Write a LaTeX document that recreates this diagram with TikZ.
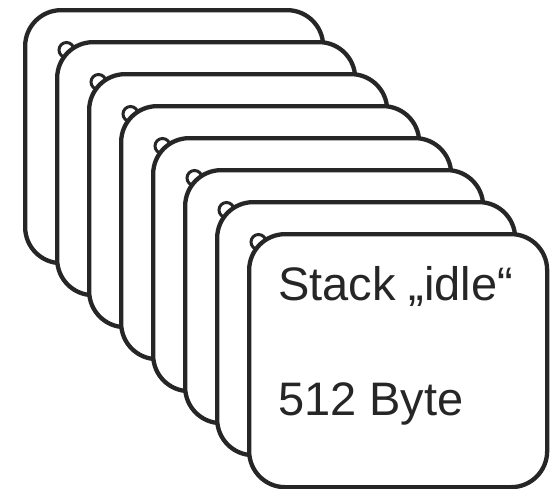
\documentclass[tikz,border=0pt]{standalone}
\usepackage{fontspec}
\setmainfont{Liberation Sans}
\definecolor{ink}{HTML}{262626}
\tikzset{
  card/.style={draw=ink, fill=white, line width=4.3pt, rounded corners=36pt,
    minimum width=298pt, minimum height=253pt, inner sep=0pt, anchor=north west},
  bump/.style={draw=ink, fill=white, line width=3pt, circle, minimum size=15pt, inner sep=0pt},
  label/.style={text=ink, font=\fontsize{47}{56}\selectfont, anchor=base west, inner sep=0pt}
}
\begin{document}
\begin{tikzpicture}[x=1pt,y=-1pt]
\useasboundingbox (0,0) rectangle (551,488);
\foreach \i in {0,...,7}{
  \ifnum\i>0
    \node[bump] (b\i) at ({23+32*\i+11.5},{8+32*\i+10}) {};
  \fi
  \node[card] (c\i) at ({23+32*\i},{8+32*\i}) {};
}
\node[label] (t1) at (278,300) {Stack „idle“};
\node[label] (t2) at (278,415) {512 Byte};
\end{tikzpicture}
\end{document}
